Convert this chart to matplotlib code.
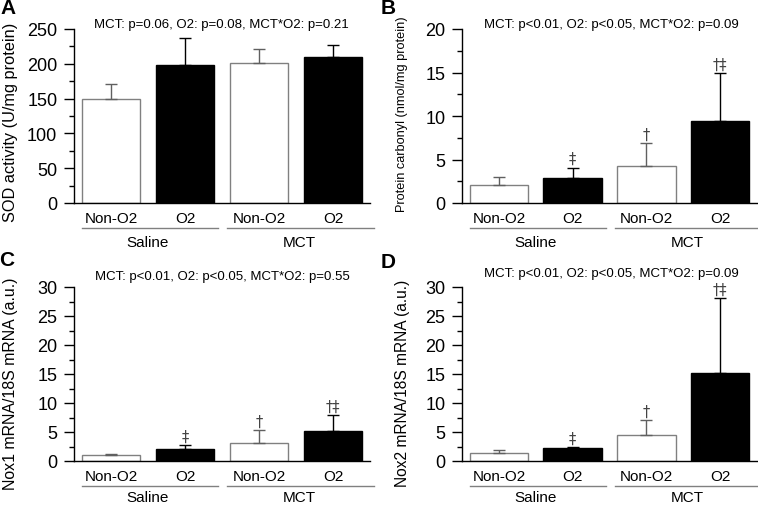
import matplotlib
matplotlib.use("Agg")
import matplotlib.pyplot as plt
from matplotlib.ticker import MultipleLocator

plt.rcParams['font.family'] = ['Liberation Sans', 'DejaVu Sans']

groups = ["Saline", "MCT"]
conditions = ["Non-O2", "O2", "Non-O2", "O2"]

sod_mean = [149, 198, 201, 210]
sod_err = [22, 38.5, 20, 16.5]

carbonyl_mean = [2.12, 2.93, 4.27, 9.46]
carbonyl_err = [0.84, 1.15, 2.63, 5.44]

nox1_mean = [1.03, 2.12, 3.1, 5.22]
nox1_err = [0.23, 0.63, 2.18, 2.75]

nox2_mean = [1.32, 2.24, 4.47, 15.09]
nox2_err = [0.57, 0.11, 2.59, 13.0]

marks_B = ["", "‡", "†", "†‡"]
marks_C = ["", "‡", "†", "†‡"]
marks_D = ["", "‡", "†", "†‡"]

pvals_A = "MCT: p=0.06, O2: p=0.08, MCT*O2: p=0.21"
pvals_B = "MCT: p<0.01, O2: p<0.05, MCT*O2: p=0.09"
pvals_C = "MCT: p<0.01, O2: p<0.05, MCT*O2: p=0.55"
pvals_D = "MCT: p<0.01, O2: p<0.05, MCT*O2: p=0.09"

W, H = 758, 506
fig = plt.figure(figsize=(W / 100, H / 100), dpi=100)


def px_axes(l, r, t, b):
    return fig.add_axes([l / W, 1 - b / H, (r - l) / W, (b - t) / H])


def panel(ax, means, errs, ymax, major, minor, marks, ptext, pty, ptx, grp_y):
    x = list(range(len(means)))
    face = ['white', 'black', 'white', 'black']
    edge = ['#808080', 'black', '#808080', 'black']
    ecol = ['#606060', 'black', '#606060', 'black']
    ax.bar(x, means, width=0.79, color=face, edgecolor=edge, linewidth=1.0, zorder=2)
    for xi, m, e, c in zip(x, means, errs, ecol):
        ax.errorbar([xi], [m], yerr=[[0], [e]], fmt='none', ecolor=c,
                    elinewidth=1.0, capsize=4, capthick=1.0, zorder=3)
    for xi, m, e, s in zip(x, means, errs, marks):
        if s:
            ax.annotate(s, (xi, m + e), xytext=(0, 1), textcoords='offset points',
                        ha='center', va='bottom', fontsize=10.5, color='#444444',
                        family=['DejaVu Sans'])
    ax.set_xlim(-0.5, 3.5)
    ax.set_ylim(0, ymax)
    ax.yaxis.set_major_locator(MultipleLocator(major))
    ax.yaxis.set_minor_locator(MultipleLocator(minor))
    ax.spines['top'].set_visible(False)
    ax.spines['right'].set_visible(False)
    ax.spines['left'].set_linewidth(1.0)
    ax.spines['bottom'].set_linewidth(1.0)
    ax.set_xticks([])
    ax.tick_params(axis='y', which='major', direction='out', length=7, width=1.0,
                   labelsize=13, pad=5)
    ax.tick_params(axis='y', which='minor', direction='out', length=3.5, width=1.0)
    tr = ax.get_xaxis_transform()
    for xi, lab in zip(x, conditions):
        ax.text(xi, -0.088, lab, transform=tr, ha='center', va='center', fontsize=11)
    ax.plot([-0.39, 1.45], [-0.146, -0.146], transform=tr, color='#808080',
            lw=1.0, clip_on=False)
    ax.plot([1.57, 3.55], [-0.146, -0.146], transform=tr, color='#808080',
            lw=1.0, clip_on=False)
    ax.text(0.5, grp_y, groups[0], transform=tr, ha='center', va='center', fontsize=11)
    ax.text(2.55, grp_y, groups[1], transform=tr, ha='center', va='center', fontsize=11)
    ax.text(ptx, pty, ptext, transform=tr, ha='center', va='center', fontsize=9.5)


axA = px_axes(74, 370, 30, 204)
panel(axA, sod_mean, sod_err, 250, 50, 25, ["", "", "", ""], pvals_A, 1.03, 1.49, -0.225)
axB = px_axes(462, 757, 30, 204)
panel(axB, carbonyl_mean, carbonyl_err, 20, 5, 2.5, marks_B, pvals_B, 1.03, 1.52, -0.225)
axC = px_axes(74, 370, 288, 462)
panel(axC, nox1_mean, nox1_err, 30, 5, 2.5, marks_C, pvals_C, 1.065, 1.51, -0.205)
axD = px_axes(462, 757, 288, 462)
panel(axD, nox2_mean, nox2_err, 30, 5, 2.5, marks_D, pvals_D, 1.08, 1.52, -0.205)


def ftext(xp, yp, s, **kw):
    fig.text(xp / W, 1 - yp / H, s, **kw)


ftext(11, 122, "SOD activity (U/mg protein)", rotation=90, ha='center', va='center', fontsize=11.8)
ftext(402, 114, "Protein carbonyl (nmol/mg protein)", rotation=90, ha='center', va='center', fontsize=9.2)
ftext(11, 384, "Nox1 mRNA/18S mRNA (a.u.)", rotation=90, ha='center', va='center', fontsize=11.4)
ftext(402, 383, "Nox2 mRNA/18S mRNA (a.u.)", rotation=90, ha='center', va='center', fontsize=11.2)

for xp, yp, s in [(8, 9, "A"), (388, 9, "B"), (7, 261, "C"), (388, 262, "D")]:
    ftext(xp, yp, s, ha='center', va='center', fontsize=15, fontweight='bold')

fig.savefig("out.png", dpi=100)
